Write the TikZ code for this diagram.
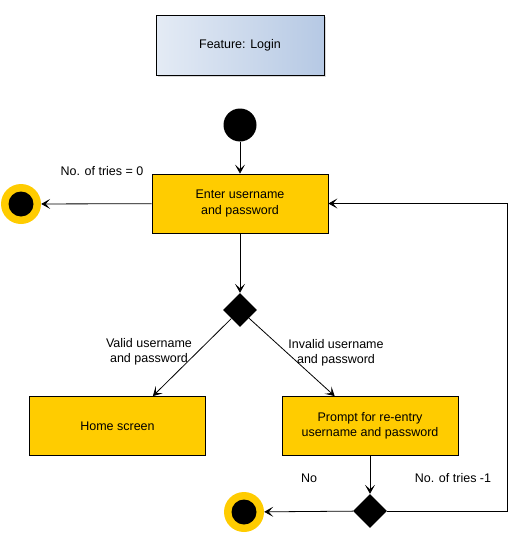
\documentclass[tikz,border=0pt]{standalone}
\usepackage{fontspec}
\setmainfont{Liberation Sans}
\usetikzlibrary{arrows.meta,calc,shapes.geometric,shadows}
\definecolor{actioncolor}{HTML}{FFCC00}
\definecolor{featureleft}{HTML}{E4EBF5}
\definecolor{featureright}{HTML}{B6C9E4}

\begin{document}
\begin{tikzpicture}[x=1pt,y=-1pt,
    font=\fontsize{12.5}{15.5}\selectfont,
    flow/.style={-{Stealth[length=9pt,width=10pt,inset=4.5pt]},line width=0.8pt},
    action/.style={draw,line width=0.8pt,fill=actioncolor,minimum width=176pt,minimum height=59pt,align=center,inner sep=0pt},
    decision/.style={diamond,fill=black,minimum width=34pt,minimum height=34pt,inner sep=0pt},
    label/.style={align=center,inner sep=0pt}]
    \useasboundingbox (0,0) rectangle (531,546);

    % Feature title
    \node[draw,line width=0.8pt,left color=featureleft,right color=featureright,
          minimum width=168pt,minimum height=60pt,
          drop shadow={shadow xshift=2pt,shadow yshift=-2pt,opacity=0.3}] (feature) at (240,45) {Feature: Login};

    % Start and end states
    \node[circle,fill=black,minimum size=33pt,inner sep=0pt] (start) at (240,125) {};
    \foreach \name/\x/\y in {stopleft/21/204,stopbottom/244/512} {
        \node[circle,fill=actioncolor,minimum size=40pt,inner sep=0pt] (\name) at (\x,\y) {};
        \node[circle,fill=black,minimum size=25pt,inner sep=0pt] at (\name) {};
    }

    % Actions
    \node[action] (enter) at (240,203.5) {Enter username\\and password};
    \node[action] (home) at (117.5,426) {Home screen};
    \node[action] (prompt) at (370,426) {Prompt for re-entry\\username and password};

    % Decisions
    \node[decision] (check) at (240,310) {};
    \node[decision] (tries) at (370,511) {};
    \coordinate (loop) at (507,0);

    % Flow
    \draw[flow] (start) -- (enter);
    \draw[flow] (enter) -- (stopleft);
    \draw[flow] (enter) -- (check);
    \draw[flow] (check) -- ($(home.north)!0.4!(home.north east)$);
    \draw[flow] (check) -- ($(prompt.north)!0.4!(prompt.north west)$);
    \draw[flow] (prompt) -- (tries);
    \draw[flow] (tries) -- (stopbottom);
    \draw[flow] (tries.east) -- (tries.east -| loop) |- (enter.east);

    % Guards
    \node[label] at (102,171) {No. of tries = 0};
    \node[label] at (149,352) {Valid username\\and password};
    \node[label] at (336,353) {Invalid username\\and password};
    \node[label] at (309,478) {No};
    \node[label] at (453,478) {No. of tries -1};
\end{tikzpicture}
\end{document}
